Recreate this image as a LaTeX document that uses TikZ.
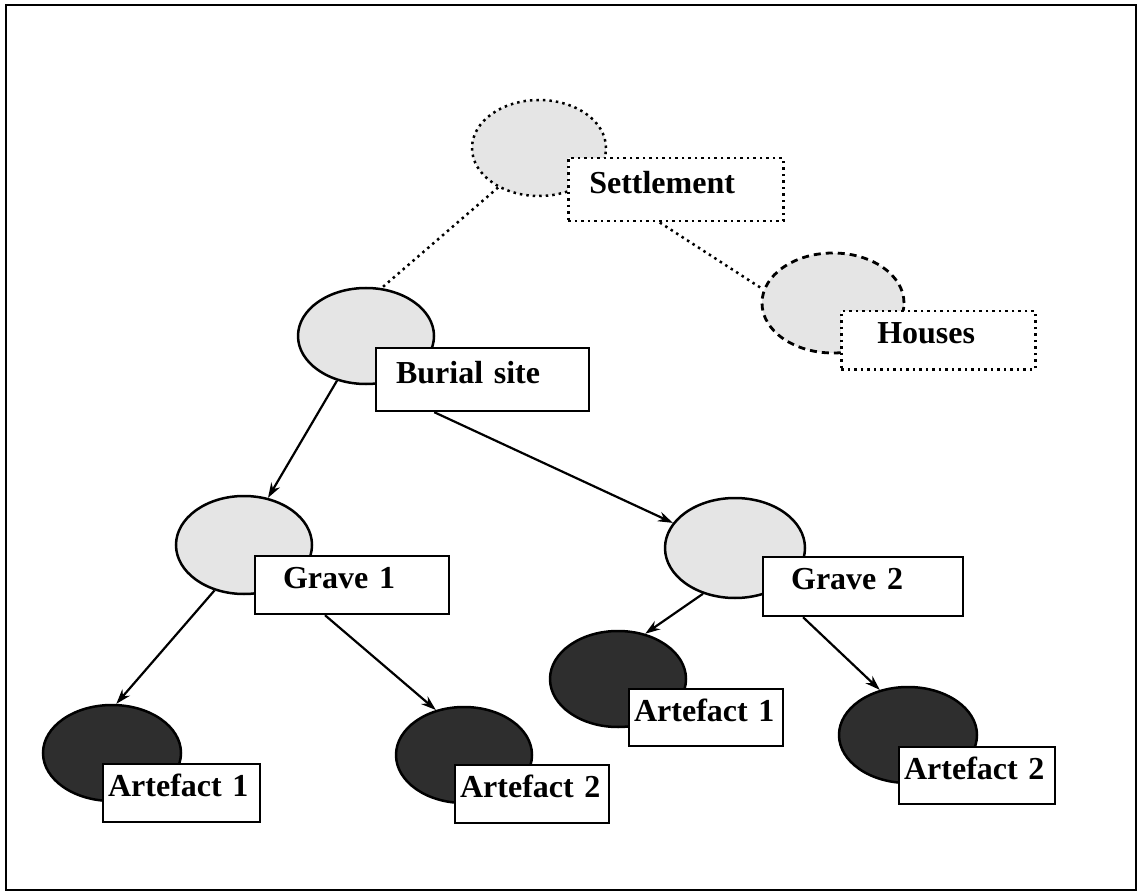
\documentclass[tikz,border=0pt]{standalone}
\usepackage{fontspec}
\setmainfont{Liberation Serif}
\usetikzlibrary{arrows.meta,shapes.geometric}

\begin{document}
\begin{tikzpicture}[
  x=1pt, y=-1pt,
  >={Stealth[length=15pt,width=10pt]},
  font=\fontsize{32}{36}\selectfont\bfseries,
  blob/.style={ellipse, draw, line width=2.5pt, inner sep=0pt, minimum width=136pt, minimum height=96pt},
  pale/.style={blob, fill=black!10},
  dark/.style={blob, fill=black!82},
  faint/.style={line width=2.5pt, dash pattern=on 2.5pt off 4pt},
  tag/.style={draw, fill=white, line width=2.2pt, anchor=north west, align=left, inner ysep=0pt, text depth=15pt},
  arrow/.style={->, line width=2.2pt},
  link/.style={faint}
]
\useasboundingbox (0,0) rectangle (1138,893);
\draw[line width=2.4pt] (6,5) rectangle (1136,890);

\node[pale, faint, minimum width=134pt] (settlement) at (539,148) {};
\node[pale, line width=2.8pt, dash pattern=on 7pt off 5pt, minimum width=142pt, minimum height=100pt] (houses) at (833,303) {};
\node[pale] (burial) at (366,336) {};
\node[pale, minimum height=98pt] (grave1) at (244,545) {};
\node[pale, minimum width=140pt, minimum height=100pt] (grave2) at (735,548) {};
\node[dark, minimum width=138pt] (art11) at (112,753) {};
\node[dark] (art12) at (464,755) {};
\node[dark] (art21) at (618,679) {};
\node[dark, minimum width=138pt] (art22) at (908,735) {};

\node[tag, faint, text width=173pt, inner xsep=21pt, minimum height=63pt] (settlementbox) at (567,157) {Settlement};
\node[tag, faint, text width=122pt, inner xsep=36pt, minimum height=58pt] (housesbox) at (840,310) {Houses};
\node[tag, text width=173pt, inner xsep=20pt, minimum height=63pt] (burialbox) at (375,347) {Burial site};
\node[tag, text width=138pt, inner xsep=28pt, minimum height=58pt] (grave1box) at (254,555) {Grave 1};
\node[tag, text width=144pt, inner xsep=28pt, minimum height=59pt] (grave2box) at (762,556) {Grave 2};
\node[tag, text width=147pt, inner xsep=5pt, minimum height=58pt] (art11box) at (102,763) {Artefact 1};
\node[tag, text width=144pt, inner xsep=5pt, minimum height=58pt] (art12box) at (454,764) {Artefact 2};
\node[tag, text width=144pt, inner xsep=5pt, minimum height=57pt] (art21box) at (628,688) {Artefact 1};
\node[tag, text width=146pt, inner xsep=5pt, minimum height=57pt] (art22box) at (898,746) {Artefact 2};

\draw[link] (settlement.224) -- (burial.72);
\draw[link] (settlementbox.-116) -- (houses.169);
\draw[arrow] (burial.237) -- (grave1.63);
\draw[arrow] (burialbox.214) -- (grave2.158);
\draw[arrow] (grave1.237) -- (art11.85);
\draw[arrow] (grave1box.228) -- (art12.122);
\draw[arrow] (grave2.235) -- (art21.59);
\draw[arrow] (grave2box.207) -- (art22.122);
\end{tikzpicture}
\end{document}
